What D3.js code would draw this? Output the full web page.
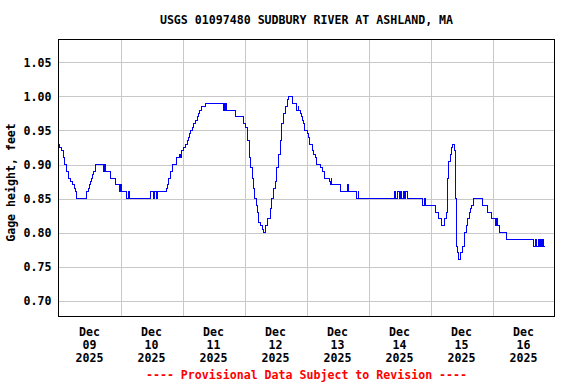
<!DOCTYPE html>
<html lang="en">
<head>
    <meta charset="UTF-8">
    <title>USGS 01097480 Sudbury River at Ashland, MA</title>
    <script src="https://d3js.org/d3.v7.min.js"></script>
    <style>
        body {
            margin: 0;
            background: #fff;
        }
        svg {
            display: block;
        }
        text {
            font-family: "DejaVu Sans Mono", "Liberation Mono", monospace;
            font-weight: bold;
            font-size: 11.6px;
            fill: #000;
        }
    </style>
</head>
<body>
<script>
    // Chart texts
    const stationTitle = "USGS 01097480 SUDBURY RIVER AT ASHLAND, MA";
    const yTitle = "Gage height, feet";
    const footNote = "---- Provisional Data Subject to Revision ----";

    // Readings (step changes)
    const readingTimes = [
        "12-09 00:00", "12-09 00:30", "12-09 01:00", "12-09 01:45", "12-09 02:00", "12-09 02:30",
        "12-09 03:15", "12-09 04:00", "12-09 04:45", "12-09 05:15", "12-09 06:00", "12-09 06:30",
        "12-09 07:00", "12-09 10:45", "12-09 11:30", "12-09 12:00", "12-09 12:30", "12-09 12:45",
        "12-09 13:15", "12-09 13:30", "12-09 14:30", "12-09 17:30", "12-09 17:45", "12-09 18:00",
        "12-09 20:00", "12-09 22:15", "12-09 23:45",
        "12-10 00:00", "12-10 00:30", "12-10 02:30", "12-10 03:15", "12-10 03:30", "12-10 11:30",
        "12-10 12:45", "12-10 13:15", "12-10 13:45", "12-10 14:15", "12-10 17:45", "12-10 18:15",
        "12-10 18:45", "12-10 19:15", "12-10 19:30", "12-10 20:00", "12-10 21:45", "12-10 23:00",
        "12-10 23:15", "12-10 23:30",
        "12-11 00:15", "12-11 01:00", "12-11 01:45", "12-11 02:15", "12-11 02:45", "12-11 03:00",
        "12-11 03:45", "12-11 04:15", "12-11 05:00", "12-11 05:45", "12-11 06:15", "12-11 06:45",
        "12-11 07:15", "12-11 09:00", "12-11 16:00", "12-11 16:15", "12-11 16:30", "12-11 16:45",
        "12-11 17:00", "12-11 20:30", "12-11 23:45",
        "12-12 00:15", "12-12 01:00", "12-12 01:15", "12-12 01:45", "12-12 02:00", "12-12 02:30",
        "12-12 03:00", "12-12 03:30", "12-12 04:00", "12-12 04:30", "12-12 05:00", "12-12 05:30",
        "12-12 06:00", "12-12 07:00", "12-12 07:30", "12-12 08:00", "12-12 08:45", "12-12 10:00",
        "12-12 10:30", "12-12 11:15", "12-12 12:00", "12-12 12:30", "12-12 13:00", "12-12 13:45",
        "12-12 14:15", "12-12 14:30", "12-12 15:15", "12-12 16:00", "12-12 16:30", "12-12 17:00",
        "12-12 18:45", "12-12 20:15", "12-12 20:45", "12-12 21:00", "12-12 21:45", "12-12 22:00",
        "12-12 22:30", "12-12 23:00", "12-12 23:15",
        "12-13 00:15", "12-13 00:45", "12-13 01:00", "12-13 02:15", "12-13 02:45", "12-13 03:30",
        "12-13 04:00", "12-13 05:30", "12-13 06:00", "12-13 07:00", "12-13 09:00", "12-13 09:15",
        "12-13 09:30", "12-13 09:45", "12-13 13:00", "12-13 13:15", "12-13 16:00", "12-13 16:15",
        "12-13 19:30", "12-13 20:00", "12-13 20:15",
        "12-14 10:00", "12-14 10:30", "12-14 11:15", "12-14 12:00", "12-14 12:30", "12-14 12:45",
        "12-14 13:30", "12-14 14:00", "12-14 14:15", "12-14 15:15",
        "12-14 20:45", "12-14 21:45", "12-14 22:15",
        "12-15 02:00", "12-15 03:00", "12-15 04:15", "12-15 05:30", "12-15 06:00", "12-15 06:30",
        "12-15 06:45", "12-15 07:00", "12-15 07:45", "12-15 08:00", "12-15 08:30", "12-15 09:15",
        "12-15 09:45", "12-15 10:00", "12-15 10:30", "12-15 11:00", "12-15 11:30", "12-15 12:30",
        "12-15 13:00", "12-15 13:15", "12-15 13:45", "12-15 14:30", "12-15 15:00", "12-15 15:30",
        "12-15 16:00", "12-15 16:45", "12-15 20:15", "12-15 22:00", "12-15 23:30",
        "12-16 01:00", "12-16 01:30", "12-16 01:45", "12-16 02:45", "12-16 05:30",
        "12-16 16:00", "12-16 16:45", "12-16 17:00", "12-16 17:45", "12-16 18:00",
        "12-16 18:45", "12-16 19:00", "12-16 19:30", "12-16 19:45", "12-16 20:15"
    ];
    const gageHeights = [
        0.93, 0.925, 0.92, 0.915, 0.91, 0.90,
        0.89, 0.88, 0.875, 0.87, 0.865, 0.86,
        0.85, 0.86, 0.865, 0.87, 0.875, 0.88,
        0.885, 0.89, 0.90, 0.89, 0.90, 0.89,
        0.88, 0.87, 0.86,
        0.87, 0.86, 0.85, 0.86, 0.85, 0.86,
        0.85, 0.86, 0.85, 0.86, 0.865, 0.87,
        0.88, 0.885, 0.89, 0.90, 0.91, 0.915,
        0.91, 0.92,
        0.925, 0.93, 0.935, 0.94, 0.945, 0.95,
        0.955, 0.96, 0.965, 0.97, 0.975, 0.98,
        0.985, 0.99, 0.98, 0.99, 0.98, 0.99,
        0.98, 0.97, 0.96,
        0.955, 0.95, 0.935, 0.93, 0.91, 0.895,
        0.88, 0.865, 0.85, 0.84, 0.83, 0.815,
        0.81, 0.805, 0.80, 0.81, 0.82, 0.835,
        0.85, 0.865, 0.875, 0.895, 0.915, 0.935,
        0.95, 0.96, 0.975, 0.985, 0.995, 1.00,
        0.99, 0.98, 0.985, 0.98, 0.975, 0.97,
        0.965, 0.96, 0.95,
        0.945, 0.94, 0.93, 0.92, 0.915, 0.91,
        0.90, 0.895, 0.89, 0.88, 0.875, 0.87,
        0.88, 0.87, 0.865, 0.86, 0.87, 0.86,
        0.85, 0.86, 0.85,
        0.86, 0.85, 0.86, 0.85, 0.86, 0.85,
        0.86, 0.85, 0.86, 0.85,
        0.84, 0.85, 0.84,
        0.83, 0.82, 0.81, 0.82, 0.83, 0.85,
        0.88, 0.905, 0.915, 0.925, 0.93, 0.92,
        0.85, 0.78, 0.77, 0.76, 0.77, 0.78,
        0.79, 0.80, 0.81, 0.82, 0.83, 0.835,
        0.84, 0.85, 0.84, 0.83, 0.82,
        0.81, 0.82, 0.81, 0.80, 0.79,
        0.78, 0.79, 0.78, 0.79, 0.78,
        0.79, 0.78, 0.79, 0.78, 0.78
    ];

    // Axis ticks
    const yTicks = [0.70, 0.75, 0.80, 0.85, 0.90, 0.95, 1.00, 1.05];
    const dayLabels = ["2025-12-09", "2025-12-10", "2025-12-11", "2025-12-12",
                       "2025-12-13", "2025-12-14", "2025-12-15", "2025-12-16"];

    const width = 576, height = 384;
    const margin = { top: 39.5, right: 21.5, bottom: 67.5, left: 58.5 };
    const plotW = width - margin.left - margin.right;
    const plotH = height - margin.top - margin.bottom;

    const parseReading = d3.timeParse("%Y-%m-%d %H:%M");
    const parseDay = d3.timeParse("%Y-%m-%d");

    const data = readingTimes.map((t, i) => ({ t: parseReading("2025-" + t), v: gageHeights[i] }));
    const days = dayLabels.map(parseDay);

    const x = d3.scaleTime()
        .domain([days[0], d3.timeDay.offset(days[days.length - 1], 1)])
        .range([0, plotW]);

    // 0.70 sits on the 7th grid line from the top, with some room below
    const y = d3.scaleLinear()
        .domain([0.6765, 1.0838])
        .range([plotH, 0]);

    const svg = d3.select("body").append("svg")
        .attr("width", width)
        .attr("height", height);

    // Title
    svg.append("text")
        .attr("x", margin.left + plotW / 2)
        .attr("y", 24)
        .attr("text-anchor", "middle")
        .text(stationTitle);

    const g = svg.append("g")
        .attr("transform", `translate(${margin.left},${margin.top})`);

    // Horizontal grid + y labels
    const yAxis = g.append("g")
        .call(d3.axisLeft(y)
            .tickValues(yTicks)
            .tickFormat(d3.format(".2f"))
            .tickSize(-plotW)
            .tickPadding(7));
    yAxis.select(".domain").remove();
    yAxis.selectAll("line").attr("stroke", "#c8c8c8").attr("shape-rendering", "crispEdges");
    yAxis.selectAll("text").attr("font-size", null).attr("font-family", null);

    // Vertical grid at day boundaries
    const xGrid = g.append("g")
        .attr("transform", `translate(0,${plotH})`)
        .call(d3.axisBottom(x)
            .tickValues(days.slice(1))
            .tickSize(-plotH)
            .tickFormat(""));
    xGrid.select(".domain").remove();
    xGrid.selectAll("line").attr("stroke", "#c8c8c8").attr("shape-rendering", "crispEdges");

    // Day labels, three lines each, centred at noon
    const fmtMon = d3.timeFormat("%b"), fmtDay = d3.timeFormat("%d"), fmtYear = d3.timeFormat("%Y");
    const labels = g.selectAll(".day-label")
        .data(days)
        .enter().append("text")
        .attr("class", "day-label")
        .attr("text-anchor", "middle")
        .attr("transform", d => `translate(${x(d3.timeHour.offset(d, 12))},${plotH})`);
    labels.append("tspan").attr("x", 0).attr("y", 19).text(fmtMon);
    labels.append("tspan").attr("x", 0).attr("y", 32).text(fmtDay);
    labels.append("tspan").attr("x", 0).attr("y", 45).text(fmtYear);

    // Gage height line
    const line = d3.line()
        .x(d => x(d.t))
        .y(d => y(d.v))
        .curve(d3.curveStepAfter);

    g.append("path")
        .datum(data)
        .attr("fill", "none")
        .attr("stroke", "#0000ff")
        .attr("stroke-width", 1)
        .attr("shape-rendering", "crispEdges")
        .attr("d", line);

    // Plot frame
    g.append("rect")
        .attr("width", plotW)
        .attr("height", plotH)
        .attr("fill", "none")
        .attr("stroke", "#000")
        .attr("stroke-width", 1)
        .attr("shape-rendering", "crispEdges");

    // Y axis title
    svg.append("text")
        .attr("transform", `translate(15,${margin.top + 143}) rotate(-90)`)
        .attr("text-anchor", "middle")
        .text(yTitle);

    // Provisional note
    svg.append("text")
        .attr("x", margin.left + plotW / 2)
        .attr("y", 378.5)
        .attr("text-anchor", "middle")
        .style("fill", "#ff0000")
        .text(footNote);
</script>
</body>
</html>
